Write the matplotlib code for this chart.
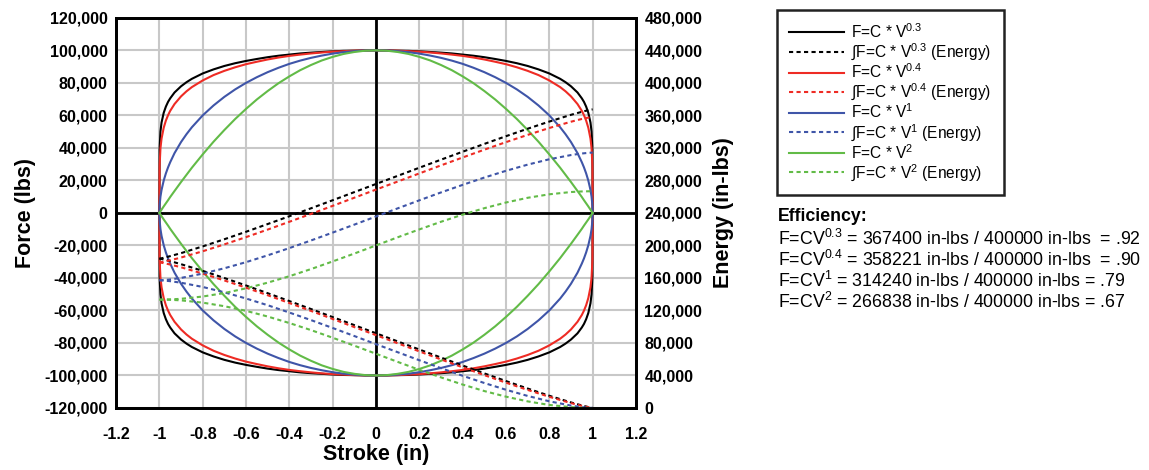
import matplotlib
matplotlib.use("Agg")
import matplotlib.pyplot as plt
from matplotlib.ticker import FuncFormatter
from matplotlib.lines import Line2D

plt.rcParams['font.family'] = ['Liberation Sans', 'DejaVu Sans']
plt.rcParams['mathtext.fontset'] = 'custom'
plt.rcParams['mathtext.rm'] = 'Liberation Sans'
plt.rcParams['mathtext.it'] = 'Liberation Sans:italic'
plt.rcParams['mathtext.bf'] = 'Liberation Sans:bold'

# stroke positions (in) where the force curves were read, -1 .. 0 (curves are symmetric)
stroke_half = [-1, -0.999, -0.995, -0.99, -0.98, -0.97, -0.96, -0.95, -0.93, -0.9, -0.875, -0.85,
               -0.8, -0.75, -0.7, -0.65, -0.6, -0.55, -0.5, -0.45, -0.4, -0.35, -0.3, -0.25,
               -0.2, -0.15, -0.1, -0.05, 0]

# damping force (lbs) on the extension stroke, read at stroke_half
force_03_half = [0, 39400, 50100, 55600, 61600, 65400, 68300, 70500, 74100, 77900, 80400, 82500,
                 85800, 88300, 90400, 92100, 93500, 94700, 95800, 96700, 97400, 98100, 98600, 99000,
                 99400, 99700, 99800, 100000, 100000]
force_04_half = [0, 28900, 39800, 45700, 52400, 56800, 60100, 62800, 67000, 71700, 74800, 77400,
                 81500, 84800, 87400, 89600, 91500, 93000, 94400, 95600, 96600, 97400, 98100, 98700,
                 99200, 99500, 99800, 99900, 100000]
force_1_half = [0, 4500, 10000, 14100, 19900, 24300, 28000, 31200, 36800, 43600, 48400, 52700,
                60000, 66100, 71400, 76000, 80000, 83500, 86600, 89300, 91700, 93700, 95400, 96800,
                98000, 98900, 99500, 99900, 100000]
force_2_half = [0, 200, 1000, 2000, 4000, 5900, 7800, 9800, 13500, 19000, 23400, 27800,
                36000, 43800, 51000, 57800, 64000, 69800, 75000, 79800, 84000, 87800, 91000, 93800,
                96000, 97800, 99000, 99800, 100000]

# stroke positions (in) where the energy curves were read
stroke_e = [-1, -0.99, -0.98, -0.95, -0.9, -0.8, -0.7, -0.6, -0.5, -0.4, -0.3, -0.2, -0.1, 0,
            0.1, 0.2, 0.3, 0.4, 0.5, 0.6, 0.7, 0.8, 0.9, 0.95, 0.98, 0.99, 1]

# accumulated energy (in-lbs), upper and lower stroke
energy_03_up = [183700, 184200, 184800, 186800, 190500, 198800, 207600, 216800, 226300, 235900, 245700, 255600, 265600, 275600,
                285600, 295600, 305500, 315300, 324900, 334400, 343600, 352400, 360700, 364400, 366400, 367000, 367400]
energy_03_dn = [183700, 183200, 182700, 180700, 176900, 168700, 159900, 150700, 141200, 131500, 121700, 111800, 101900, 91900,
                81900, 71900, 62000, 52200, 42500, 33100, 23900, 15000, 6800, 3100, 1100, 500, 0]
energy_04_up = [179100, 179500, 180000, 181700, 185100, 192800, 201300, 210200, 219500, 229100, 238800, 248700, 258700, 268700,
                278600, 288600, 298500, 308200, 317800, 327100, 336000, 344500, 352200, 355600, 357300, 357800, 358200]
energy_04_dn = [179100, 178700, 178200, 176500, 173100, 165400, 156900, 148000, 138700, 129100, 119400, 109500, 99500, 89600,
                79600, 69600, 59700, 50000, 40400, 31100, 22200, 13700, 6000, 2600, 900, 400, 0]
energy_1_up = [157100, 157200, 157300, 158100, 160000, 165300, 171900, 179400, 187800, 196700, 206100, 215800, 225600, 235600,
               245600, 255500, 265200, 274500, 283500, 291800, 299400, 306000, 311200, 313100, 313900, 314100, 314200]
energy_1_dn = [157100, 157000, 156800, 156000, 154100, 148900, 142300, 134700, 126400, 117400, 108100, 98400, 88500, 78500,
               68600, 58700, 49000, 39600, 30700, 22400, 14800, 8200, 2900, 1000, 300, 100, 0]
energy_2_up = [133300, 133300, 133400, 133600, 134300, 137100, 141400, 147200, 154200, 162100, 170900, 180300, 190000, 200000,
               210000, 219700, 229100, 237900, 245800, 252800, 258600, 262900, 265700, 266400, 266600, 266700, 266700]
energy_2_dn = [133300, 133300, 133300, 133100, 132400, 129600, 125200, 119500, 112500, 104500, 95800, 86400, 76600, 66700,
               56700, 46900, 37600, 28800, 20800, 13900, 8100, 3700, 1000, 200, 0, 0, 0]

exponents = ['0.3', '0.4', '1', '2']
colors = ['#000000', '#ee2b24', '#3f55a8', '#62bb47']
forces_half = [force_03_half, force_04_half, force_1_half, force_2_half]
energies_up = [energy_03_up, energy_04_up, energy_1_up, energy_2_up]
energies_dn = [energy_03_dn, energy_04_dn, energy_1_dn, energy_2_dn]

x_ticks = [-1.2, -1, -0.8, -0.6, -0.4, -0.2, 0, 0.2, 0.4, 0.6, 0.8, 1, 1.2]
x_labels = ['-1.2', '-1', '-0.8', '-0.6', '-0.4', '-0.2', '0', '0.2', '0.4', '0.6', '0.8', '1', '1.2']
force_ticks = list(range(-120000, 120001, 20000))
energy_ticks = list(range(0, 480001, 40000))

eff_totals = ['367400', '358221', '314240', '266838']
eff_ideal = '400000'
eff_ratio = ['.92', '.90', '.79', '.67']
eff_gap = ['  ', '  ', ' ', ' ']

# mirror the read half onto the other side of the stroke
stroke = stroke_half + [-s for s in stroke_half[-2::-1]]

fig = plt.figure(figsize=(11.49, 4.70), dpi=100)
ax = fig.add_axes([0.101, 0.132, 0.4525, 0.830])
ax2 = ax.twinx()

ax.set_xlim(-1.2, 1.2)
ax.set_ylim(-120000, 120000)
ax2.set_ylim(0, 480000)
ax.set_xticks(x_ticks)
ax.set_xticklabels(x_labels)
ax.set_yticks(force_ticks)
ax2.set_yticks(energy_ticks)
fmt = FuncFormatter(lambda v, _: f"{v:,.0f}")
ax.yaxis.set_major_formatter(fmt)
ax2.yaxis.set_major_formatter(fmt)

ax.grid(True, color='#c8c8c8', lw=1.5, zorder=0)
ax.set_axisbelow(True)
ax.axhline(0, color='black', lw=2, zorder=1)
ax.axvline(0, color='black', lw=2, zorder=1)

for fh, c in zip(forces_half, colors):
    f = fh + fh[-2::-1]
    ax.plot(stroke, f, color=c, lw=1.5, zorder=3)
    ax.plot(stroke, [-v for v in f], color=c, lw=1.5, zorder=3)

for eu, ed, c in zip(energies_up, energies_dn, colors):
    ax2.plot(stroke_e, eu, color=c, lw=1.5, dashes=(2, 1.6))
    ax2.plot(stroke_e, ed, color=c, lw=1.5, dashes=(2, 1.6))

for a in (ax, ax2):
    for s in a.spines.values():
        s.set_linewidth(2)
        s.set_color('black')
    a.tick_params(length=0, pad=6, labelsize=11.5)
    for lab in a.get_xticklabels() + a.get_yticklabels():
        lab.set_fontweight('bold')
ax.tick_params(axis='x', pad=14)

ax.set_xlabel('Stroke (in)', fontsize=15.5, fontweight='bold', labelpad=1)
ax.set_ylabel('Force (lbs)', fontsize=15.5, fontweight='bold', labelpad=6)
ax2.set_ylabel('Energy (in-lbs)', fontsize=15.5, fontweight='bold', labelpad=8)

handles, labels = [], []
for e, c in zip(exponents, colors):
    handles.append(Line2D([], [], color=c, lw=1.5))
    labels.append(f"F=C * V$^{{{e}}}$")
    handles.append(Line2D([], [], color=c, lw=1.5, dashes=(2, 1.6)))
    labels.append(f"\u222bF=C * V$^{{{e}}}$ (Energy)")
leg = fig.legend(handles, labels, loc='upper left', bbox_to_anchor=(0.6762, 0.9787),
                 borderaxespad=0, fontsize=11.2, handlelength=3.5, handletextpad=0.5,
                 labelspacing=0.02, borderpad=0.78, fancybox=False, framealpha=1,
                 edgecolor='#222222')
leg.get_frame().set_linewidth(1.8)

fig.text(0.677, 0.540, 'Efficiency:', fontsize=12.8, fontweight='bold', va='center')
for i, (e, t, r, g) in enumerate(zip(exponents, eff_totals, eff_ratio, eff_gap)):
    fig.text(0.677, 0.4915 - i * 0.0447, f"F=CV$^{{{e}}}$ = {t} in-lbs / {eff_ideal} in-lbs{g}= {r}",
             fontsize=12.8, va='center')

fig.savefig('out.png', dpi=100)
